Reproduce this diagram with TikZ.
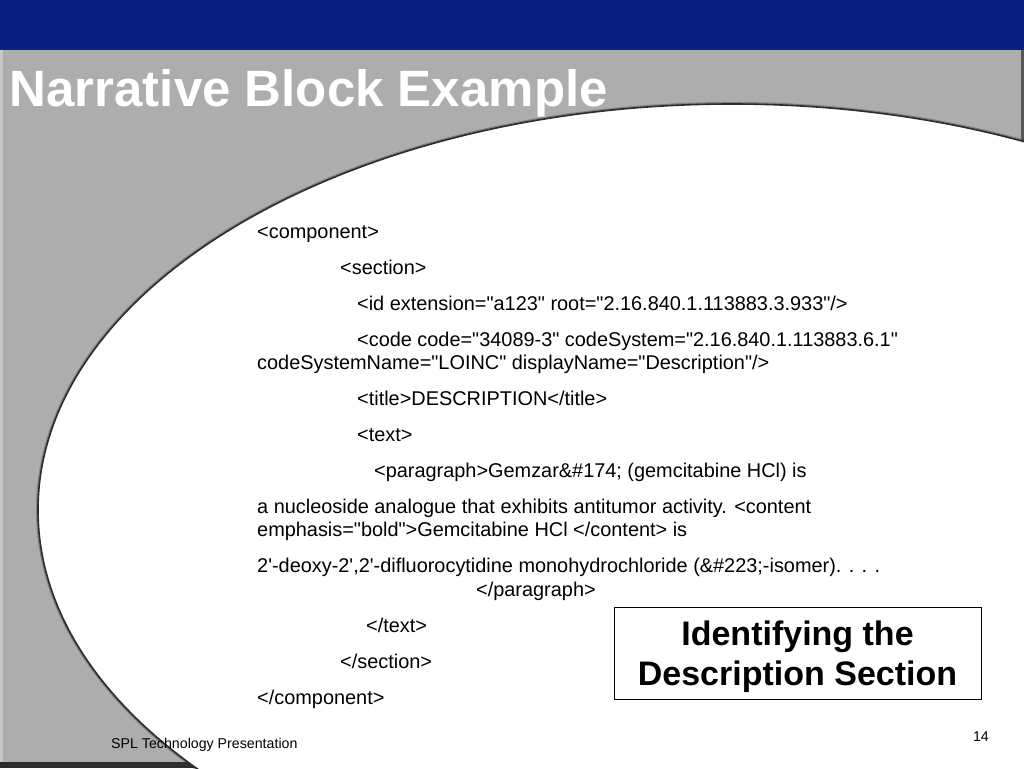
\documentclass[tikz,border=0pt]{standalone}
\usepackage{fontspec}
\setmainfont{Liberation Sans}
\newcommand{\qmk}{\textquotedbl}
\newcommand{\apo}{\textquotesingle}
\definecolor{topblue}{RGB}{10,32,128}
\definecolor{slidegray}{RGB}{173,173,173}
\definecolor{lightstrip}{RGB}{200,200,200}
\definecolor{rimdark}{RGB}{45,45,45}
\begin{document}
\begin{tikzpicture}[x=1pt,y=-1pt,
  xml/.style={anchor=base west, inner sep=0pt, font=\fontsize{19.9}{23}\selectfont},
  foot/.style={inner sep=0pt, font=\fontsize{14.2}{16}\selectfont}]
\useasboundingbox (0,0) rectangle (1024,768);
% background
\fill[slidegray] (0,0) rectangle (1024,768);
\fill[lightstrip] (0,50) rectangle (3,768);
\fill[rimdark!80] (1021,50) rectangle (1024,160);
\fill[rimdark] (0,762) rectangle (200,768);
% white ellipse with dark rim
\begin{scope}
\clip (0,50) rectangle (1024,768);
\draw[rimdark, line width=4pt, opacity=0.35] (732,510) ellipse [x radius=694pt, y radius=406pt];
\fill[white] (732,510) ellipse [x radius=694pt, y radius=406pt];
\draw[rimdark, line width=1.6pt] (732,510) ellipse [x radius=694pt, y radius=406pt];
\end{scope}
% top bar
\fill[topblue] (0,0) rectangle (1024,50);
% title
\node[anchor=base west, inner sep=0pt, text=white, font=\bfseries\fontsize{51}{56}\selectfont] (title) at (9.5,106) {Narrative Block Example};
% xml lines
\node[xml] (l1) at (257,238) {<component>};
\node[xml] (l2) at (340,274) {<section>};
\node[xml] (l3) at (357,310) {<id extension=\qmk a123\qmk{} root=\qmk 2.16.840.1.113883.3.933\qmk/>};
\node[xml] (l4) at (357,346) {<code code=\qmk 34089-3\qmk{} codeSystem=\qmk 2.16.840.1.113883.6.1\qmk};
\node[xml] (l5) at (257,369) {codeSystemName=\qmk LOINC\qmk{} displayName=\qmk Description\qmk/>};
\node[xml] (l6) at (357,405) {<title>DESCRIPTION</title>};
\node[xml] (l7) at (357,441) {<text>};
\node[xml] (l8) at (374,477) {<paragraph>Gemzar\&\#174; (gemcitabine HCl) is};
\node[xml] (l9) at (257,513) {a nucleoside analogue that exhibits antitumor activity. <content};
\node[xml] (l10) at (257,536) {emphasis=\qmk bold\qmk>Gemcitabine HCl </content> is};
\node[xml] (l11) at (257,572) {2\apo-deoxy-2\apo,2\apo-difluorocytidine monohydrochloride (\&\#223;-isomer). . . .};
\node[xml] (l12) at (476,596) {</paragraph>};
\node[xml] (l13) at (366,632) {</text>};
\node[xml] (l14) at (340,668) {</section>};
\node[xml] (l15) at (257,704) {</component>};
% callout box
\node[draw=black, line width=1pt, fill=white, minimum width=367pt, minimum height=92pt, inner sep=0pt] (box) at (797.5,653) {};
\node[inner sep=0pt, align=center, font=\bfseries\fontsize{34}{40}\selectfont] (boxtext) at ([yshift=-4pt]box.center) {Identifying the\\Description Section};
% footer
\node[foot, anchor=base west] (footer) at (111,748) {SPL Technology Presentation};
\node[foot, anchor=base east] (page) at (989,741) {14};
\end{tikzpicture}
\end{document}
